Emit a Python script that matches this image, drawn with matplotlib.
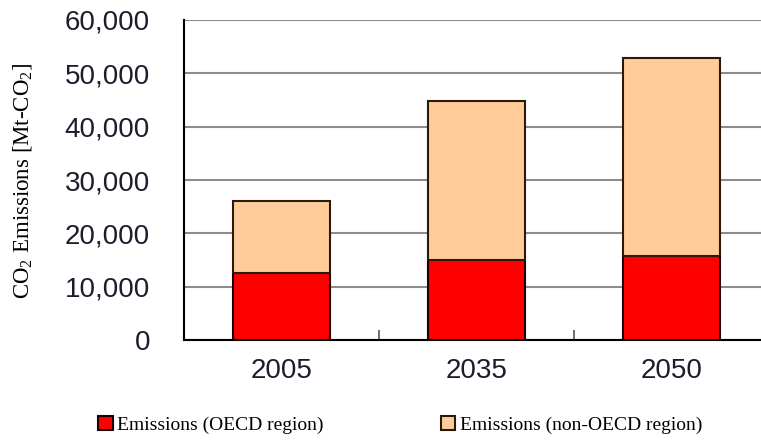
import matplotlib
matplotlib.use("Agg")
import matplotlib.pyplot as plt
import numpy as np

plt.rcParams["mathtext.fontset"] = "custom"
plt.rcParams["mathtext.rm"] = "Liberation Serif"
plt.rcParams["mathtext.it"] = "Liberation Serif:italic"
plt.rcParams["mathtext.bf"] = "Liberation Serif:bold"

years = ["2005", "2035", "2050"]
oecd = [12500, 15000, 15800]
non_oecd_total = [26000, 44900, 52800]
non_oecd = [t - o for t, o in zip(non_oecd_total, oecd)]
yticks = [0, 10000, 20000, 30000, 40000, 50000, 60000]

fig = plt.figure(figsize=(7.61, 4.41), dpi=100)
ax = fig.add_axes([184/761, 1-340/441, 585/761, 320/441])

x = np.arange(len(years))
ax.bar(x, oecd, width=0.5, color="#ff0000", edgecolor="#1a0000", linewidth=1.5,
       label="Emissions (OECD region)", zorder=3)
ax.bar(x, non_oecd, bottom=oecd, width=0.5, color="#ffcc99", edgecolor="#2a1a0a",
       linewidth=1.5, label="Emissions (non-OECD region)", zorder=3)

ax.set_xlim(-0.5, 2.5)
ax.set_ylim(0, 60000)
ax.set_yticks(yticks)
ax.set_yticklabels([f"{v:,}" for v in yticks], fontfamily="Liberation Sans",
                   fontsize=20, color="#1c1c2c")
ax.set_xticks(x)
ax.set_xticklabels(years, fontfamily="Liberation Sans", fontsize=20, color="#1c1c2c")
ax.tick_params(axis="x", length=0, pad=13)
ax.tick_params(axis="y", length=0, pad=24.5)
ax.set_xticks([0.5, 1.5], minor=True)
ax.tick_params(axis="x", which="minor", direction="in", length=7, width=1.2, color="#555555")

ax.yaxis.grid(True, color="#8c8c8c", linewidth=1.5, zorder=0)
ax.set_axisbelow(True)
for s in ["top", "right"]:
    ax.spines[s].set_visible(False)
ax.spines["left"].set_linewidth(1.5)
ax.spines["bottom"].set_linewidth(1.5)

fig.text(23/761, 1-181/441, r"CO$_2$ Emissions [Mt-CO$_2$]", rotation=90,
         ha="center", va="center", fontfamily="Liberation Serif", fontsize=16.5)

leg = fig.legend(loc="center left", bbox_to_anchor=(98/761, 1-425/441), ncol=2,
                 frameon=False, prop={"family": "Liberation Serif", "size": 14},
                 handlelength=0.75, handleheight=0.75, handletextpad=0.25,
                 columnspacing=6.0, borderaxespad=0, borderpad=0)

fig.savefig("out.png", dpi=100)
